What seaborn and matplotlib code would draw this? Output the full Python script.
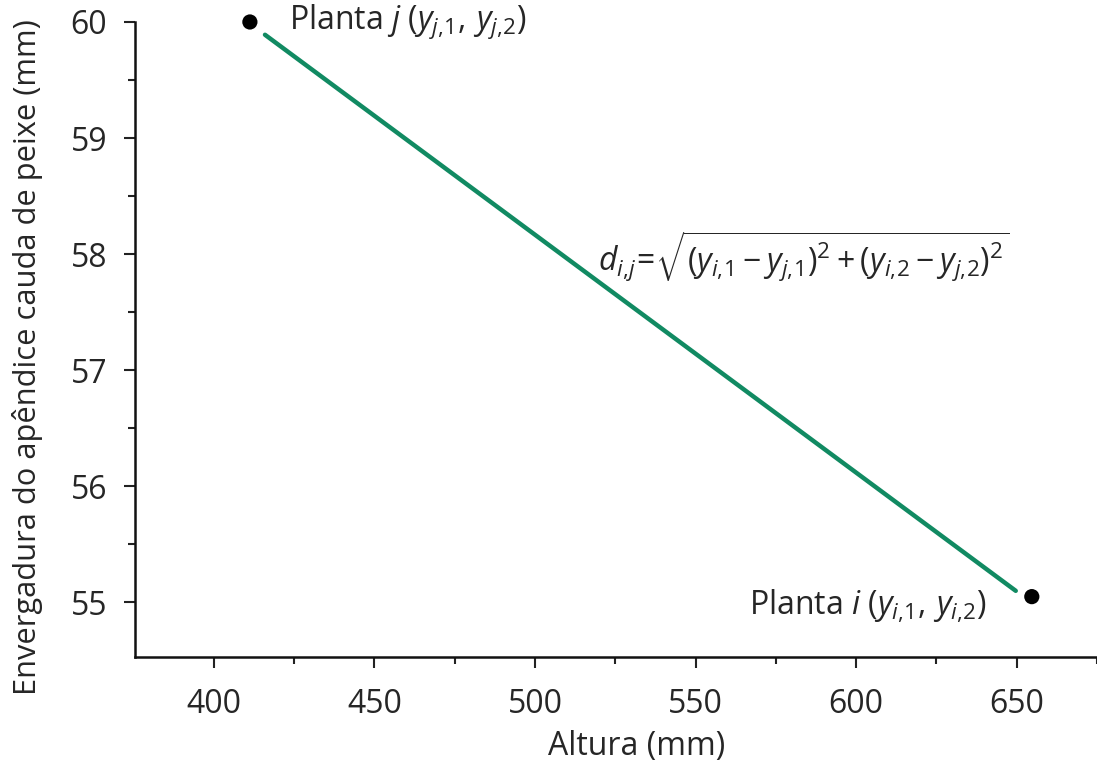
import matplotlib
matplotlib.use("Agg")
import matplotlib.pyplot as plt
import seaborn as sns
import pandas as pd
from matplotlib.ticker import MultipleLocator

# Data
plantas = ["j", "i"]
altura = [411.2, 654.7]
envergadura = [60.0, 55.05]
linha_x = [415.9, 649.7]
linha_y = [59.89, 55.10]
xticks = [400, 450, 500, 550, 600, 650]
yticks = [55, 56, 57, 58, 59, 60]

sns.set_style("ticks")
plt.rcParams["font.family"] = ["Open Sans", "DejaVu Sans"]
plt.rcParams["mathtext.fontset"] = "custom"
plt.rcParams["mathtext.rm"] = "Open Sans"
plt.rcParams["mathtext.it"] = "Open Sans:italic"
plt.rcParams["mathtext.bf"] = "Open Sans:bold"

fig = plt.figure(figsize=(10.97, 7.66), dpi=100)
ax = fig.add_axes([0.123, 0.1423, 0.877, 0.829])

df_pts = pd.DataFrame({"planta": plantas, "altura": altura, "env": envergadura})
df_line = pd.DataFrame({"x": linha_x, "y": linha_y})

sns.lineplot(data=df_line, x="x", y="y", ax=ax, color="#118a62", linewidth=3.2, sort=False)
sns.scatterplot(data=df_pts, x="altura", y="env", ax=ax, color="black", s=120,
                edgecolor="none", clip_on=False, zorder=5)

ax.set_xlim(375.4, 675)
ax.set_ylim(54.53, 60)
ax.set_xticks(xticks)
ax.set_yticks(yticks)
ax.xaxis.set_minor_locator(MultipleLocator(25))
ax.yaxis.set_minor_locator(MultipleLocator(0.5))
ax.tick_params(axis="both", which="major", length=8, width=1.5, labelsize=23, color="#222222")
ax.tick_params(axis="x", which="major", pad=14)
ax.tick_params(axis="y", which="major", pad=12)
ax.tick_params(axis="both", which="minor", length=5, width=1.5, color="#222222")
for s in ["left", "bottom"]:
    ax.spines[s].set_linewidth(1.8)
    ax.spines[s].set_color("#111111")
sns.despine(ax=ax)

ax.set_xlabel("Altura (mm)", fontsize=23)
ax.set_ylabel("Envergadura do apêndice cauda de peixe (mm)", fontsize=22.2)
ax.xaxis.set_label_coords(0.521, -0.115)
ax.yaxis.set_label_coords(-0.096, 0.472)

ax.text(423.5, 60.0, r"Planta $j$ $(y_{j,\!1},\, y_{j,\!2})$", fontsize=23, va="center", ha="left")
ax.text(566.5, 54.97, r"Planta $i$ $(y_{i,\!1},\, y_{i,\!2})$", fontsize=23, va="center", ha="left")
ax.text(519.5, 57.98,
        r"$d_{i,\!j}\!=\!\sqrt{(y_{i,\!1} - y_{j,\!1})^2 + (y_{i,\!2} - y_{j,\!2})^2}$",
        fontsize=23, va="center", ha="left")

fig.savefig("out.png", dpi=100)
